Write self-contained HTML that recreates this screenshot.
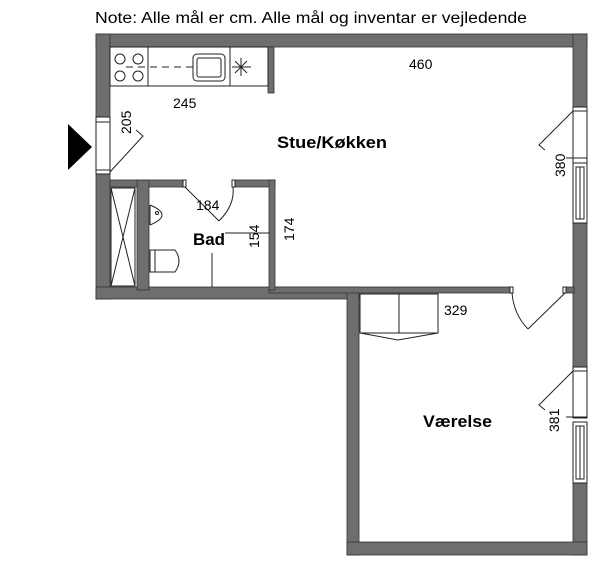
<!DOCTYPE html>
<html><head><meta charset="utf-8"><style>
html,body{margin:0;padding:0;background:#fff;}
svg{display:block;}
text{font-family:"Liberation Sans",sans-serif;fill:#000;}
</style></head><body>
<svg width="600" height="570" viewBox="0 0 600 570" xmlns="http://www.w3.org/2000/svg">
<rect width="600" height="570" fill="#fff"/>
<text x="95" y="23" font-size="15.5" textLength="432" lengthAdjust="spacingAndGlyphs">Note: Alle mål er cm. Alle mål og inventar er vejledende</text>
<g fill="#6e6e6e" stroke="#333" stroke-width="0.8">
 <rect x="96" y="34" width="491" height="13"/>
 <rect x="96" y="34" width="14" height="83"/>
 <rect x="96" y="174" width="14" height="125"/>
 <rect x="573" y="34" width="14" height="73"/>
 <rect x="573" y="223" width="14" height="144"/>
 <rect x="573" y="483" width="14" height="72"/>
 <rect x="96" y="287" width="263" height="12"/>
 <rect x="347" y="287" width="12" height="268"/>
 <rect x="347" y="542" width="240" height="13"/>
 <rect x="269" y="287" width="243" height="6"/>
 <rect x="566" y="287" width="8" height="6"/>
 <rect x="268" y="47" width="6" height="46"/>
 <rect x="110" y="180" width="73" height="7"/>
 <rect x="235" y="180" width="40" height="7"/>
 <rect x="137" y="180" width="12" height="110"/>
 <rect x="269" y="180" width="6" height="110"/>
</g>
<g fill="none" stroke="#222" stroke-width="1">
 <rect x="96" y="117" width="14" height="57" fill="#fff"/>
 <line x1="96" y1="122" x2="110" y2="122"/><line x1="96" y1="170" x2="110" y2="170"/>
 <polyline points="110,172 143,136 136,130"/>
 <rect x="110" y="47" width="158" height="39"/>
 <line x1="148" y1="47" x2="148" y2="86"/>
 <line x1="230" y1="47" x2="230" y2="86"/>
 <circle cx="120" cy="59" r="5"/><circle cx="138" cy="59" r="5"/>
 <circle cx="120" cy="76" r="5"/><circle cx="138" cy="76" r="5"/>
 <line x1="126" y1="67" x2="195" y2="67" stroke-dasharray="7,5"/>
 <rect x="193" y="54" width="32" height="27" rx="4"/>
 <rect x="197" y="58" width="24" height="19" rx="2"/>
 <line x1="241" y1="58" x2="241" y2="76"/><line x1="232" y1="67" x2="251" y2="67"/>
 <line x1="235" y1="61" x2="247" y2="73"/><line x1="247" y1="61" x2="235" y2="73"/>
 <rect x="111" y="188" width="24" height="98"/>
 <line x1="111" y1="188" x2="135" y2="286"/><line x1="135" y1="188" x2="111" y2="286"/>
 <path d="M150,205 Q174,215 150,225"/>
 <line x1="150" y1="205" x2="150" y2="225"/>
 <circle cx="157" cy="213" r="1.5"/>
 <rect x="150" y="250" width="5" height="22"/>
 <path d="M155,250 L175,250 Q183,261 175,272 L155,272"/>
 <rect x="183" y="180" width="3" height="7" fill="#fff"/>
 <rect x="232" y="180" width="3" height="7" fill="#fff"/>
 <polyline points="185,187 219,221"/>
 <path d="M219,221 Q235,205 233,187"/>
 <line x1="225" y1="233" x2="270" y2="233"/>
 <line x1="212" y1="253" x2="212" y2="287"/>
 <rect x="573" y="107" width="14" height="56" fill="#fff"/>
 <line x1="573" y1="111" x2="587" y2="111"/><line x1="573" y1="158" x2="587" y2="158"/>
 <polyline points="573,111 539,145 545,150"/>
 <line x1="566" y1="158" x2="573" y2="158"/>
 <rect x="573" y="163" width="14" height="60" fill="#fff"/>
 <rect x="576" y="167" width="8" height="52"/>
 <line x1="580" y1="167" x2="580" y2="219"/>
 <rect x="573" y="367" width="14" height="51" fill="#fff"/>
 <line x1="573" y1="371" x2="587" y2="371"/><line x1="573" y1="417" x2="587" y2="417"/>
 <polyline points="573,371 539,405 545,410"/>
 <line x1="566" y1="417" x2="573" y2="417"/>
 <rect x="573" y="422" width="14" height="61" fill="#fff"/>
 <rect x="576" y="426" width="8" height="53"/>
 <line x1="580" y1="426" x2="580" y2="479"/>
 <rect x="510" y="287" width="3" height="6" fill="#fff"/>
 <rect x="563" y="287" width="3" height="6" fill="#fff"/>
 <polyline points="565,293 528,329"/>
 <path d="M528,329 Q514,315 512,293"/>
 <rect x="360" y="294" width="78" height="39"/>
 <line x1="399" y1="294" x2="399" y2="333"/>
 <polyline points="360,333 398,340 438,333"/>
</g>
<polygon points="68,124 92,147 68,170" fill="#000"/>
<g font-size="14">
 <text x="173" y="108">245</text>
 <text x="409" y="69">460</text>
 <text x="196" y="210">184</text>
 <text x="444" y="315">329</text>
 <text transform="translate(131,134) rotate(-90)">205</text>
 <text transform="translate(259,248) rotate(-90)">154</text>
 <text transform="translate(294,241) rotate(-90)">174</text>
 <text transform="translate(565,177) rotate(-90)">380</text>
 <text transform="translate(559,432) rotate(-90)">381</text>
</g>
<g font-size="17" font-weight="bold">
 <text x="277" y="148" textLength="110" lengthAdjust="spacingAndGlyphs">Stue/Køkken</text>
 <text x="193" y="245" textLength="32" lengthAdjust="spacingAndGlyphs">Bad</text>
 <text x="423" y="427" textLength="69" lengthAdjust="spacingAndGlyphs">Værelse</text>
</g>
</svg>
</body></html>
